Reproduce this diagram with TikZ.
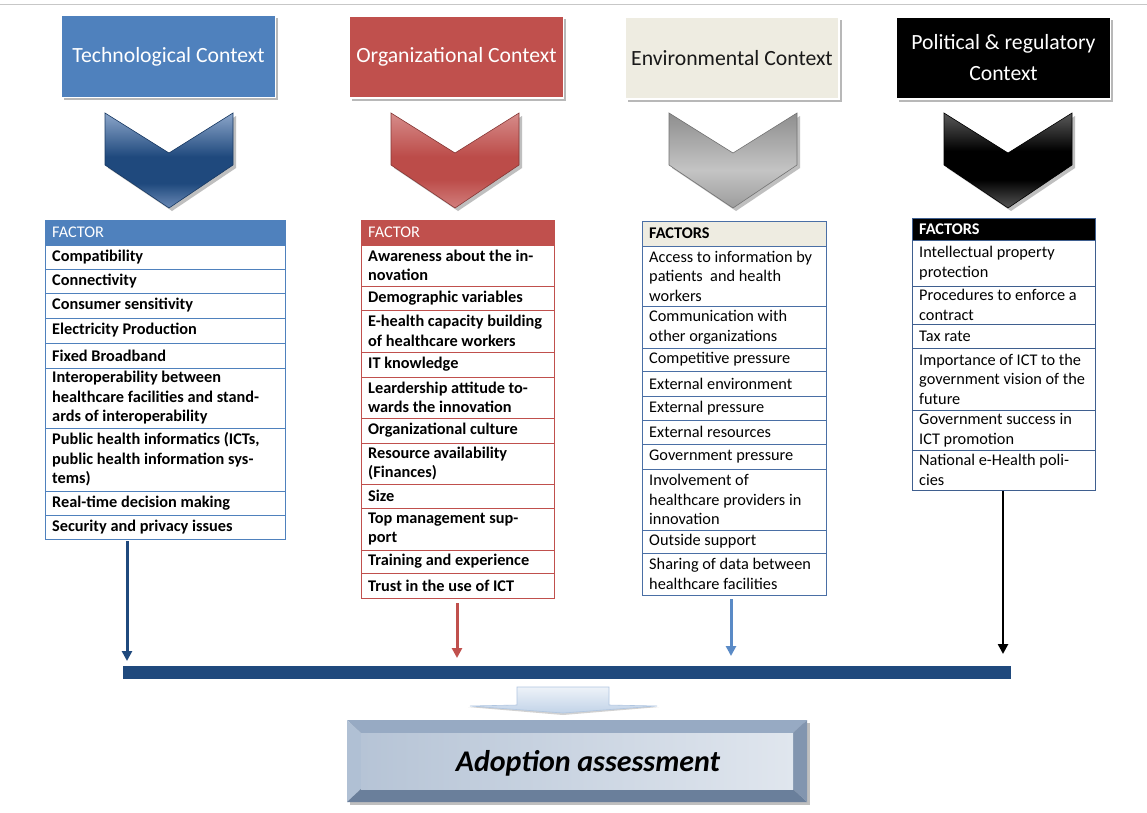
\documentclass[tikz,border=0pt]{standalone}
\usepackage{fontspec}
\setmainfont{Carlito}
\usetikzlibrary{arrows.meta,shadows,calc}
\definecolor{techblue}{HTML}{4F81BD}
\definecolor{darkblue}{HTML}{1F497D}
\definecolor{orgred}{HTML}{C0504D}
\definecolor{envbeige}{HTML}{EEECE1}
\definecolor{envline}{HTML}{4A6FA5}
\definecolor{polline}{HTML}{3F5F8F}
\definecolor{envarrow}{HTML}{5A8AC6}
\definecolor{bevtop}{HTML}{97AAC3}
\definecolor{bevleft}{HTML}{B0C0D4}
\definecolor{bevbot}{HTML}{6A7F9B}
\definecolor{bevright}{HTML}{8295AF}
\definecolor{faceL}{HTML}{B6C4D6}
\definecolor{faceR}{HTML}{E0E6EE}
\definecolor{tcTop}{HTML}{8CA6CA}
\definecolor{tcBot}{HTML}{6A89B5}
\definecolor{ocTop}{HTML}{D68C8A}
\definecolor{ocMid}{HTML}{BC4C49}
\definecolor{ocBot}{HTML}{D27F7D}
\definecolor{ecTop}{HTML}{8E8E8E}
\definecolor{ecMid}{HTML}{C4C4C4}
\definecolor{ecBot}{HTML}{9C9C9C}
\definecolor{pcTop}{HTML}{5A5A5A}
\definecolor{pcBot}{HTML}{555555}
\pgfdeclareverticalshading{techchev}{100bp}{color(0bp)=(tcBot); color(25bp)=(tcBot); color(38bp)=(darkblue); color(52bp)=(darkblue); color(75bp)=(tcTop); color(100bp)=(tcTop)}
\pgfdeclareverticalshading{orgchev}{100bp}{color(0bp)=(ocBot); color(25bp)=(ocBot); color(40bp)=(ocMid); color(52bp)=(ocMid); color(75bp)=(ocTop); color(100bp)=(ocTop)}
\pgfdeclareverticalshading{envchev}{100bp}{color(0bp)=(ecBot); color(25bp)=(ecBot); color(45bp)=(ecMid); color(75bp)=(ecTop); color(100bp)=(ecTop)}
\pgfdeclareverticalshading{polchev}{100bp}{color(0bp)=(pcBot); color(25bp)=(pcBot); color(40bp)=(black); color(55bp)=(black); color(75bp)=(pcTop); color(100bp)=(pcTop)}
\newcommand\cellrow[8]{%
  \node[#2,anchor=north west,minimum width=#5pt-#4pt,minimum height=#7pt-#6pt] (#1) at (#4,#6) {};
  \node[#3,anchor=west] (#1t) at ([xshift=7pt]#1.west) {#8};}
\newcommand\chev[3]{%
  \fill[black!25] (#1-61,116) -- (#1+3,156) -- (#1+67,116) -- (#1+67,168) -- (#1+3,211) -- (#1-61,168) -- cycle;
  \shade[shading=#2] (#1-64,113) -- (#1,153) -- (#1+64,113) -- (#1+64,165) -- (#1,208) -- (#1-64,165) -- cycle;
  \draw[#3, line width=0.6pt] (#1-64,113) -- (#1,153) -- (#1+64,113) -- (#1+64,165) -- (#1,208) -- (#1-64,165) -- cycle;}
\begin{document}
\begin{tikzpicture}[x=1pt,y=-1pt,
  cell/.style={draw, line width=1pt, inner sep=0pt, outer sep=0pt, fill=white},
  txt/.style={font=\fontsize{16.3}{19.5}\selectfont, align=left, inner sep=0pt, text=black},
  txtb/.style={font=\fontsize{16.3}{19.5}\selectfont\bfseries, align=left, inner sep=0pt, text=black},
  hdr/.style={minimum width=214pt, minimum height=82pt, draw=white, line width=1.5pt, inner sep=0pt,
    drop shadow={shadow xshift=2.5pt, shadow yshift=-2.5pt, fill=black!28, opacity=1},
    font=\fontsize{21.7}{31}\selectfont, align=center},
  arr/.style={line width=3pt, -{Triangle[width=10pt,length=10pt]}},
  tc/.style={cell, draw=techblue},
  oc/.style={cell, draw=orgred},
  ec/.style={cell, draw=envline},
  pc/.style={cell, draw=polline}]
\useasboundingbox (0,0) rectangle (1147,812);
\fill[white] (0,0) rectangle (1147,812);
\draw[black!22, line width=1pt] (0,4) -- (1147,4);

% header boxes
\node[hdr, fill=techblue, text=white] (h1) at (168.5,56.5) {Technological Context};
\node[hdr, fill=orgred, text=white] (h2) at (456.5,57) {Organizational Context};
\node[hdr, fill=envbeige, text=black!90] (h3) at (732,58) {Environmental Context};
\node[hdr, fill=black, text=white] (h4) at (1003.5,58) {Political \& regulatory\\Context};

% chevrons
\chev{169}{techchev}{darkblue!80!black}
\chev{455}{orgchev}{orgred!70!black}
\chev{733}{envchev}{black!55}
\chev{1008}{polchev}{black}

% Technological table
\cellrow{t0}{tc, fill=techblue}{txt, text=white}{45}{285}{220}{245}{FACTOR}
\cellrow{t1}{tc}{txtb}{45}{285}{245}{269}{Compatibility}
\cellrow{t2}{tc}{txtb}{45}{285}{269}{293}{Connectivity}
\cellrow{t3}{tc}{txtb}{45}{285}{293}{318}{Consumer sensitivity}
\cellrow{t4}{tc}{txtb}{45}{285}{318}{343}{Electricity Production}
\cellrow{t5}{tc}{txtb}{45}{285}{343}{368}{Fixed Broadband}
\cellrow{t6}{tc}{txtb}{45}{285}{368}{428}{Interoperability between\\healthcare facilities and stand-\\ards of interoperability}
\cellrow{t7}{tc}{txtb}{45}{285}{428}{491}{Public health informatics (ICTs,\\public health information sys-\\tems)}
\cellrow{t8}{tc}{txtb}{45}{285}{491}{515}{Real-time decision making}
\cellrow{t9}{tc}{txtb}{45}{285}{515}{539}{Security and privacy issues}

% Organizational table
\cellrow{o0}{oc, fill=orgred}{txt, text=white}{361}{554}{220}{245}{FACTOR}
\cellrow{o1}{oc}{txtb}{361}{554}{245}{286}{Awareness about the in-\\novation}
\cellrow{o2}{oc}{txtb}{361}{554}{286}{310}{Demographic variables}
\cellrow{o3}{oc}{txtb}{361}{554}{310}{352}{E-health capacity building\\of healthcare workers}
\cellrow{o4}{oc}{txtb}{361}{554}{352}{377}{IT knowledge}
\cellrow{o5}{oc}{txtb}{361}{554}{377}{418}{Leardership attitude to-\\wards the innovation}
\cellrow{o6}{oc}{txtb}{361}{554}{418}{443}{Organizational culture}
\cellrow{o7}{oc}{txtb}{361}{554}{443}{484}{Resource availability\\(Finances)}
\cellrow{o8}{oc}{txtb}{361}{554}{484}{508}{Size}
\cellrow{o9}{oc}{txtb}{361}{554}{508}{550}{Top management sup-\\port}
\cellrow{o10}{oc}{txtb}{361}{554}{550}{573}{Training and experience}
\cellrow{o11}{oc}{txtb}{361}{554}{573}{598}{Trust in the use of ICT}

% Environmental table
\cellrow{e0}{ec, fill=envbeige}{txtb}{642}{826}{221}{246}{FACTORS}
\cellrow{e1}{ec}{txt}{642}{826}{246}{306}{Access to information by\\patients~ and health\\workers}
\cellrow{e2}{ec}{txt}{642}{826}{306}{348}{Communication with\\other organizations}
\cellrow{e3}{ec}{txt}{642}{826}{348}{371}{Competitive pressure}
\cellrow{e4}{ec}{txt}{642}{826}{371}{396}{External environment}
\cellrow{e5}{ec}{txt}{642}{826}{396}{420}{External pressure}
\cellrow{e6}{ec}{txt}{642}{826}{420}{444}{External resources}
\cellrow{e7}{ec}{txt}{642}{826}{444}{469}{Government pressure}
\cellrow{e8}{ec}{txt}{642}{826}{469}{530}{Involvement of\\healthcare providers in\\innovation}
\cellrow{e9}{ec}{txt}{642}{826}{530}{553}{Outside support}
\cellrow{e10}{ec}{txt}{642}{826}{553}{595}{Sharing of data between\\healthcare facilities}

% Political table
\cellrow{p0}{pc, fill=black}{txtb, text=white}{912}{1095}{218}{240}{FACTORS}
\cellrow{p1}{pc}{txt}{912}{1095}{240}{286}{Intellectual property\\protection}
\cellrow{p2}{pc}{txt}{912}{1095}{286}{324}{Procedures to enforce a\\contract}
\cellrow{p3}{pc}{txt}{912}{1095}{324}{348}{Tax rate}
\cellrow{p4}{pc}{txt}{912}{1095}{348}{410}{Importance of ICT to the\\government vision of the\\future}
\cellrow{p5}{pc}{txt}{912}{1095}{410}{450}{Government success in\\ICT promotion}
\cellrow{p6}{pc}{txt}{912}{1095}{450}{490}{National e-Health poli-\\cies}

% bar
\node[fill=darkblue, minimum width=888pt, minimum height=13pt, inner sep=0pt, outer sep=0pt, anchor=north west] (bar) at (123,666) {};
\coordinate (eT) at (127,661);
\coordinate (eO) at (457,658);
\coordinate (eE) at (731,656);
\coordinate (eP) at (1003,654);
\draw[arr, draw=darkblue, fill=darkblue] ($(t9.south -| eT)+(0,2)$) -- (eT);
\draw[arr, draw=orgred, fill=orgred] ($(o11.south -| eO)+(0,5)$) -- (eO);
\draw[arr, draw=envarrow, fill=envarrow] ($(e10.south -| eE)+(0,4)$) -- (eE);
\draw[arr, draw=black, fill=black, line width=2.5pt] ($(p6.south -| eP)+(0,1)$) -- (eP);

% small down arrow
\fill[black!18] (468,707) -- (659,707) -- (563,715) -- cycle;
\shade[top color=white!90!techblue, bottom color=techblue!35!white]
  (517,687) -- (609,687) -- (609,705) -- (657,706) -- (563,713) -- (470,706) -- (517,705) -- cycle;
\draw[techblue!45!white, line width=0.6pt]
  (517,687) -- (609,687) -- (609,705) -- (657,706) -- (563,713) -- (470,706) -- (517,705) -- cycle;

% adoption box
\fill[black!25] (350,723) rectangle (810,805);
\fill[bevtop] (347,720) -- (807,720) -- (793,733) -- (361,733) -- cycle;
\fill[bevleft] (347,720) -- (361,733) -- (361,789) -- (347,802) -- cycle;
\fill[bevbot] (347,802) -- (361,789) -- (793,789) -- (807,802) -- cycle;
\fill[bevright] (807,720) -- (807,802) -- (793,789) -- (793,733) -- cycle;
\shade[left color=faceL, right color=faceR] (361,733) rectangle (793,789);
\node[font=\fontsize{30}{34}\selectfont\bfseries\itshape, inner sep=0pt] (adopt) at (588,763) {Adoption assessment};
\end{tikzpicture}
\end{document}
